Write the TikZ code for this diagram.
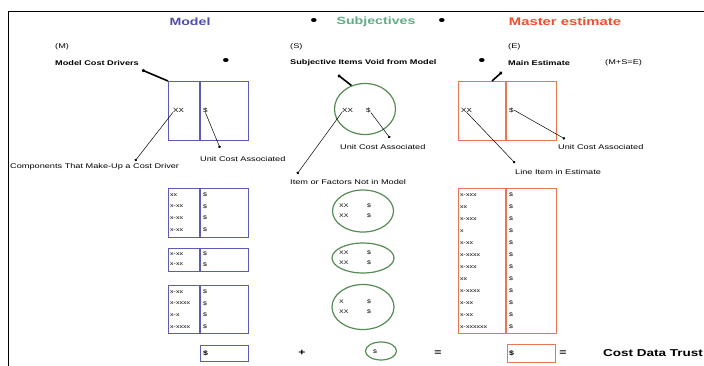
\documentclass[tikz,border=0pt]{standalone}
\usepackage{fontspec}
\setmainfont[FakeStretch=1.35]{Liberation Sans}
\usetikzlibrary{arrows.meta,shapes.geometric}
\definecolor{mblue}{RGB}{92,92,184}
\definecolor{mbluetxt}{RGB}{78,78,172}
\definecolor{sgreen}{RGB}{84,140,84}
\definecolor{sgreentxt}{RGB}{96,172,134}
\definecolor{ered}{RGB}{232,118,86}
\definecolor{eredtxt}{RGB}{236,78,46}
\tikzset{
  title/.style={font=\fontsize{10.5}{12}\selectfont\bfseries, inner sep=0pt},
  small/.style={font=\fontsize{6.8}{8}\selectfont, inner sep=0pt, anchor=west},
  smallb/.style={small, font=\fontsize{6.8}{8}\selectfont\bfseries},
  cell/.style={font=\fontsize{5.2}{6}\selectfont, inner sep=0pt, anchor=west},
  dotmark/.style={font=\fontsize{15}{16}\selectfont, inner sep=0pt},
  opmark/.style={font=\fontsize{9}{10}\selectfont\bfseries, inner sep=0pt},
  mbox/.style={draw=mblue, line width=1.4pt, anchor=north west, inner sep=0pt},
  ebox/.style={draw=ered, line width=1.4pt, anchor=north west, inner sep=0pt},
  sell/.style={draw=sgreen, line width=1.2pt, ellipse, inner sep=0pt},
  pinline/.style={line width=0.5pt, {Circle[length=2.6pt]}-},
  heavypin/.style={line width=1.6pt, {Circle[length=3pt]}-},
}
\begin{document}
\begin{tikzpicture}[x=1pt, y=-1pt]
\useasboundingbox (0,0) rectangle (704,365);

% frame
\draw[line width=0.9pt] (8,368) -- (8,11) -- (708,11);

% column headings
\node[title, text=mbluetxt] (tmodel) at (190,22) {Model};
\node[dotmark] (bull1) at (314,22) {•};
\node[title, text=sgreentxt] (tsubj) at (376,22) {Subjectives};
\node[dotmark] (bull2) at (442,22) {•};
\node[title, text=eredtxt, font=\fontsize{11}{12}\selectfont\bfseries] (test) at (565,22) {Master estimate};

% sub headings
\node[small] (lm) at (55,47) {(M)};
\node[smallb] (mcd) at (55,63) {Model Cost Drivers};
\node[dotmark] (bull3) at (226,62) {•};
\node[small] (ls) at (290,47) {(S)};
\node[smallb] (svm) at (290,63) {Subjective Items Void from Model};
\node[dotmark] (bull4) at (482,62) {•};
\node[small] (le) at (508,47) {(E)};
\node[smallb] (mest) at (508,63) {Main Estimate};
\node[small] (mse) at (605,63) {(M+S=E)};

% ---- key boxes ----
\node[mbox, minimum width=80pt, minimum height=59pt] (mkey) at (168,81) {};
\draw[mblue, line width=1.4pt] (mkey.north west) ++(32,0) -- ++(0,59);
\node[cell, font=\fontsize{6}{7}\selectfont] (mxx) at (173,110) {XX};
\node[cell, font=\fontsize{6}{7}\selectfont] (mdol) at (203,110) {\$};

\node[sell, minimum width=61pt, minimum height=51pt] (skey) at (365,109) {};
\node[cell, font=\fontsize{6}{7}\selectfont] (sxx) at (342,110) {XX};
\node[cell, font=\fontsize{6}{7}\selectfont] (sdol) at (366,110) {\$};

\node[ebox, minimum width=98pt, minimum height=59pt] (ekey) at (458,81) {};
\draw[ered, line width=1.4pt] (ekey.north west) ++(48,0) -- ++(0,59);
\node[cell, font=\fontsize{6}{7}\selectfont] (exx) at (461,110) {XX};
\node[cell, font=\fontsize{6}{7}\selectfont] (edol) at (509,110) {\$};

% ---- key labels ----
\node[small] (comp) at (10,167) {Components That Make-Up a Cost Driver};
\node[small] (mucost) at (200,159) {Unit Cost Associated};
\node[small] (sucost) at (340,147) {Unit Cost Associated};
\node[small] (notin) at (290,182) {Item or Factors Not in Model};
\node[small] (eucost) at (558,147) {Unit Cost Associated};
\node[small] (litem) at (515,172) {Line Item in Estimate};

\coordinate (dcomp) at (135,161);
\coordinate (dmu) at (220,148);
\coordinate (dsu) at (390,138);
\coordinate (dnot) at (297,174);
\coordinate (deu) at (565,139);
\coordinate (dli) at (515,163);
\coordinate (dmcd) at (142,70);
\coordinate (dsvm) at (338,75);
\coordinate (dmest) at (502,72);

% ---- connectors ----
\draw[heavypin] (dmcd) -- (mkey.north west);
\draw[heavypin] (dsvm) -- (skey.120);
\draw[heavypin] (dmest) -- (ekey.north west -| 492,0);
\draw[pinline] (dcomp) -- (mxx.south west);
\draw[pinline] (dmu) -- (mdol.south);
\draw[pinline] (dsu) -- (sdol.south east);
\draw[pinline] (dnot) -- (sxx.south west);
\draw[pinline] (deu) -- (edol.east);
\draw[pinline] (dli) -- (exx.south);

% ---- model detail boxes ----
\node[mbox, minimum width=80pt, minimum height=49pt] (mb1) at (168,188) {};
\draw[mblue, line width=1.4pt] (mb1.north west) ++(32,0) -- ++(0,49);
\foreach \t [count=\i from 0] in {xx,x-xx,x-xx,x-xx}
  {\node[cell] (mb1l\i) at (170,195+11.6*\i) {\t};
   \node[cell] (mb1r\i) at (203,195+11.6*\i) {\$};}

\node[mbox, minimum width=80pt, minimum height=23pt] (mb2) at (168,248) {};
\draw[mblue, line width=1.4pt] (mb2.north west) ++(32,0) -- ++(0,23);
\foreach \t [count=\i from 0] in {x-xx,x-xx}
  {\node[cell] (mb2l\i) at (170,254+10.5*\i) {\t};
   \node[cell] (mb2r\i) at (203,254+10.5*\i) {\$};}

\node[mbox, minimum width=80pt, minimum height=48pt] (mb3) at (168,285) {};
\draw[mblue, line width=1.4pt] (mb3.north west) ++(32,0) -- ++(0,48);
\foreach \t [count=\i from 0] in {x-xx,x-xxxx,x-x,x-xxxx}
  {\node[cell] (mb3l\i) at (170,292+11.6*\i) {\t};
   \node[cell] (mb3r\i) at (203,292+11.6*\i) {\$};}

\node[mbox, minimum width=48pt, minimum height=16pt] (mb4) at (200,345) {};
\node[cell, font=\fontsize{6.5}{7}\selectfont\bfseries] (mb4r) at (203,353) {\$};

% ---- subjective ellipses ----
\node[sell, minimum width=61pt, minimum height=42pt] (se1) at (363,211) {};
\node[sell, minimum width=62pt, minimum height=30pt] (se2) at (363,258) {};
\node[sell, minimum width=62pt, minimum height=45pt] (se3) at (363,307) {};
\node[sell, minimum width=31pt, minimum height=18pt] (se4) at (381,351) {};
\foreach \e/\y/\a/\b in {1/211/XX/XX, 2/258/XX/XX, 3/307/X/XX}
  {\node[cell] (se\e a) at (339,\y-5) {\a};
   \node[cell] (se\e b) at (339,\y+5) {\b};
   \node[cell] (se\e c) at (367,\y-5) {\$};
   \node[cell] (se\e d) at (367,\y+5) {\$};}
\node[cell] (se4d) at (373,352) {\$};

% ---- master detail box ----
\node[ebox, minimum width=98pt, minimum height=145pt] (eb1) at (458,188) {};
\draw[ered, line width=1.4pt] (eb1.north west) ++(48,0) -- ++(0,145);
\foreach \t [count=\i from 0] in {x-xxx,xx,x-xxx,x,x-xx,x-xxxx,x-xxx,xx,x-xxxx,x-xx,x-xx,x-xxxxxx}
  {\node[cell] (eb1l\i) at (460,195+12*\i) {\t};
   \node[cell] (eb1r\i) at (509,195+12*\i) {\$};}

\node[ebox, minimum width=48pt, minimum height=18pt] (eb2) at (507,344) {};
\node[cell, font=\fontsize{6.5}{7}\selectfont\bfseries] (eb2r) at (509,353) {\$};

% ---- bottom equation ----
\node[opmark] (plus) at (302,353) {+};
\node[opmark] (eq1) at (438,353) {=};
\node[opmark] (eq2) at (563,353) {=};
\node[title, anchor=west, font=\fontsize{10}{12}\selectfont\bfseries] (cdt) at (603,353) {Cost Data Trust};
\end{tikzpicture}
\end{document}
